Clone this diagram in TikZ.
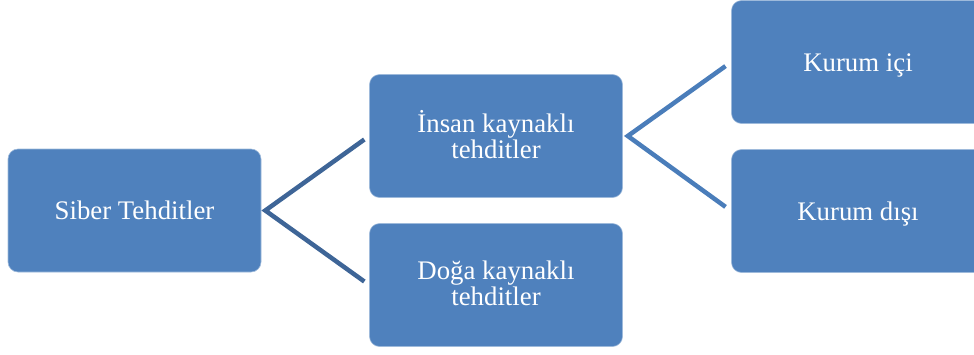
\documentclass[tikz,border=0pt]{standalone}
\usepackage{fontspec}
\setmainfont{Liberation Serif}
\definecolor{boxblue}{HTML}{4F81BD}
\definecolor{linkdark}{HTML}{3E6597}
\definecolor{linklight}{HTML}{4A7DBA}
\begin{document}
\begin{tikzpicture}[x=1pt,y=-1pt,
  box/.style={rectangle, rounded corners=10pt, fill=boxblue, draw=white!45!boxblue, line width=0.6pt,
    minimum width=253pt, minimum height=123pt, inner sep=0pt, text=white, align=center,
    font=\fontsize{26.8}{26}\selectfont},
  oneline/.style={text height=18pt, text depth=0pt},
  twoline/.style={text depth=4pt},
  linkA/.style={draw=linkdark, line width=4.5pt, line join=miter, shorten <=6pt, shorten >=6pt},
  linkB/.style={draw=linklight, line width=4.5pt, line join=miter, shorten <=7pt, shorten >=7pt}]
\useasboundingbox (0,0) rectangle (974,354);
\clip (0,0) rectangle (974,354);
\node[box,oneline] (A) at (134.5,210.5) {Siber Tehditler};
\node[box,twoline] (B) at (496,136) {İnsan kaynaklı\\tehditler};
\node[box,twoline] (C) at (496,285) {Doğa kaynaklı\\tehditler};
\node[box,oneline] (D) at (858,62) {Kurum içi};
\node[box,oneline] (E) at (858,211) {Kurum dışı};
\draw[linkA] (B.west) -- ([xshift=4pt]A.east) -- (C.west);
\draw[linkB] (D.west) -- ([xshift=5pt]B.east) -- (E.west);
\end{tikzpicture}
\end{document}
